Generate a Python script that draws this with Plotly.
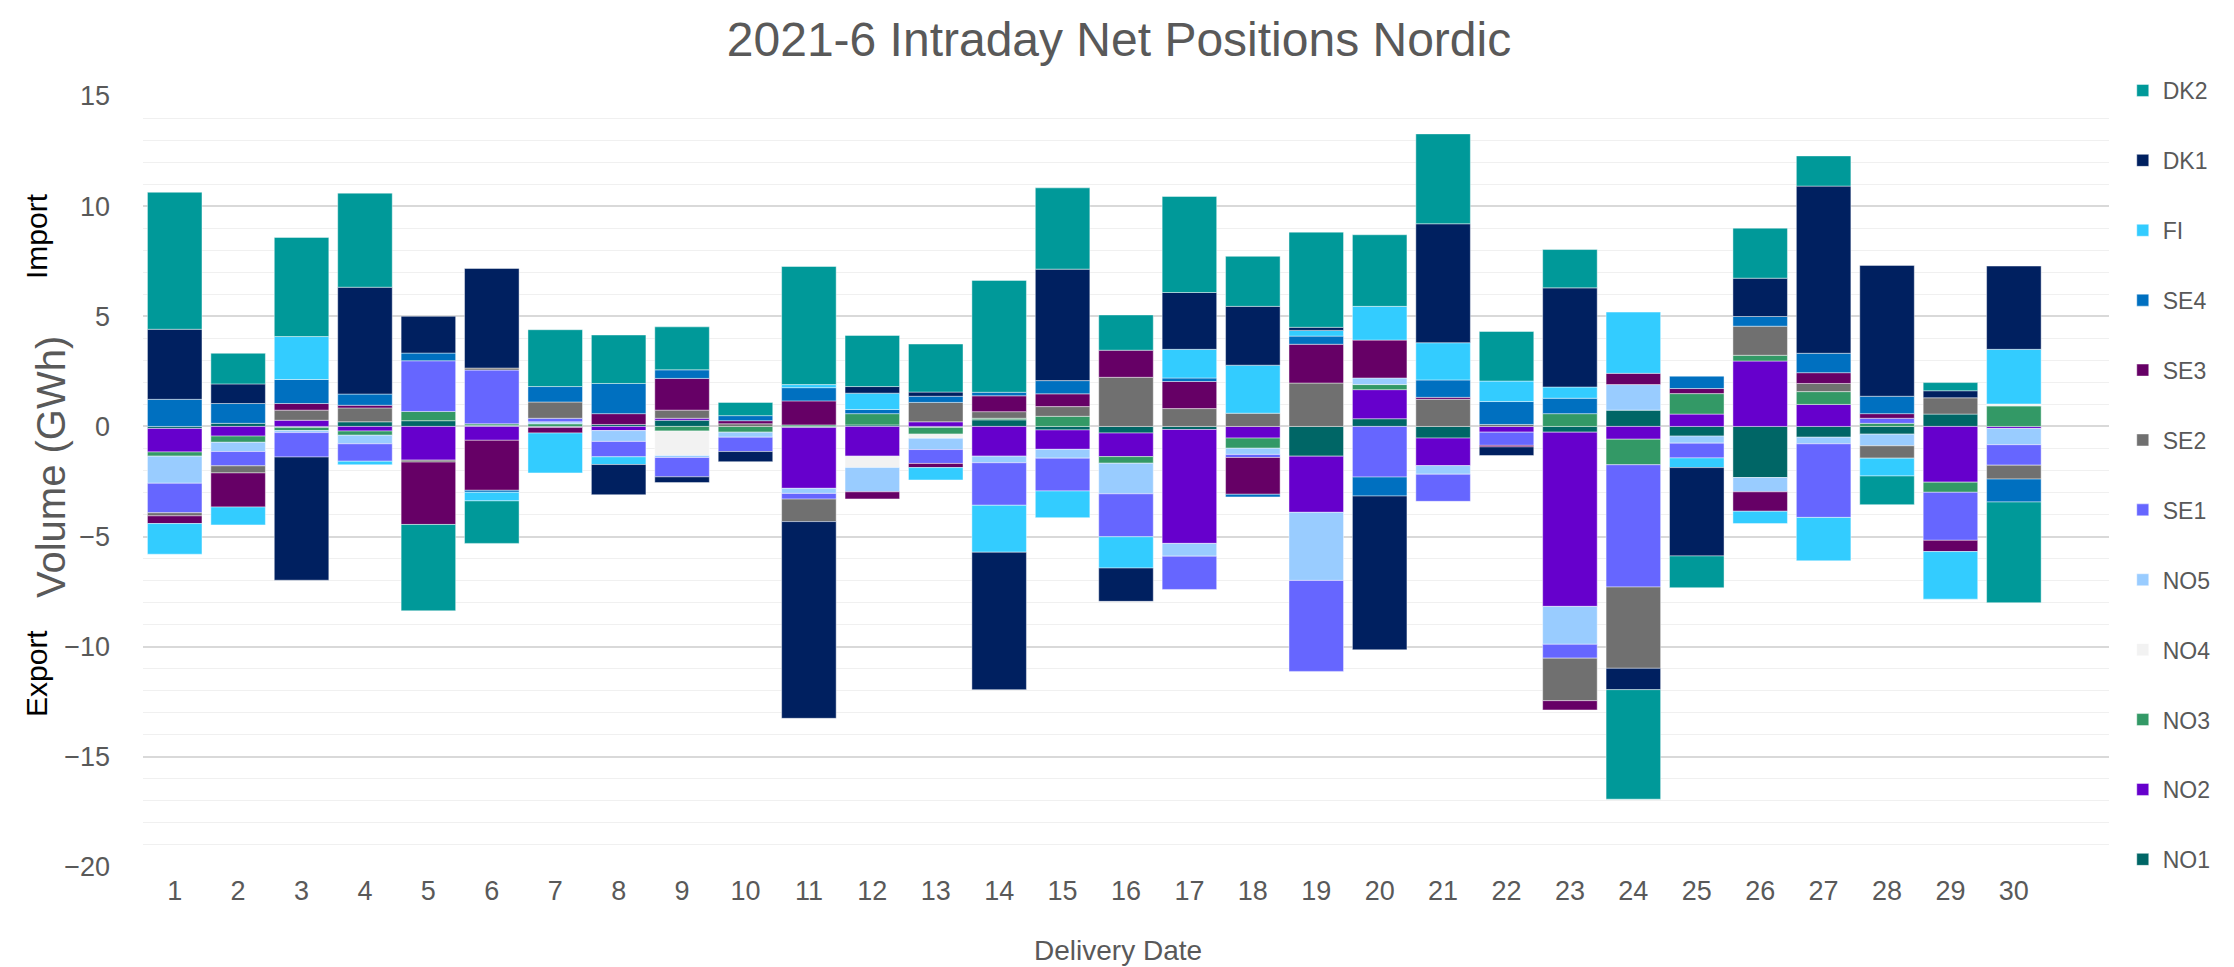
import plotly.graph_objects as go

days = list(range(1, 31))

NO1 = [-0.09, 0.14, -0.05, 0.21, 0.26, 0.05, 0, 0.09, 0.28, 0, -0.05, 0.07, -0.05, 0.30, -0.16,
       -0.30, -0.14, 0, -1.35, 0.35, -0.53, 0, -0.26, 0.74, -0.44, -2.32, -0.49, -0.35, 0.56, 0]
NO2 = [-1.07, -0.44, 0.28, -0.21, -1.53, -0.63, -0.05, -0.19, 0.09, 0, -2.76, -1.35, 0.21, -1.35, -0.88,
       -1.07, -5.17, -0.53, -2.55, 1.32, -1.25, -0.26, -7.91, -0.58, 0.56, 2.97, 1.00, 0, -2.53, -0.09]
NO3 = [-0.19, -0.28, -0.14, -0.19, 0.42, 0.07, 0.12, 0, -0.21, -0.26, 0.07, 0.51, -0.30, 0.07, 0.46,
       -0.30, 0, -0.46, 0, 0.23, 0, 0, 0.58, -1.16, 0.93, 0.26, 0.58, 0.14, -0.46, 0.93]
NO4 = [0, 0, 0, 0, 0, 0, 0, 0, -1.11, 0, 0, -0.51, -0.19, 0, 0,
       0, 0, 0, 0, 0, 0, 0, 0, 0, 0, 0, 0, 0, 0, 0.09]
NO5 = [-1.23, -0.42, -0.09, -0.39, 0, 0, 0.09, -0.49, -0.09, -0.23, -0.23, -1.11, -0.51, -0.30, -0.40,
       -1.39, -0.58, -0.28, -3.09, 0.30, -0.39, 0, -1.72, 1.16, -0.32, -0.65, -0.30, -0.53, 0, -0.74]
SE1 = [-1.34, -0.65, -1.11, -0.79, 2.30, 2.44, 0.16, -0.70, -0.88, -0.65, -0.26, 0, -0.63, -1.93, -1.49,
       -1.95, -1.51, -0.14, -4.13, -2.30, -1.23, -0.60, -0.63, -5.55, -0.67, 0, -3.34, 0.23, -2.18, -0.93]
SE2 = [-0.14, -0.32, 0.46, 0.63, -0.09, 0.09, 0.74, 0, 0.37, 0.12, -1.02, 0, 0.88, 0.30, 0.44,
       2.23, 0.81, 0.60, 1.97, 0, 1.23, 0.09, -1.93, -3.69, 0, 1.32, 0.37, -0.56, 0.74, -0.63]
SE3 = [-0.35, -1.55, 0.30, 0.12, -2.83, -2.27, -0.25, 0.49, 1.44, 0.14, 1.09, -0.32, -0.19, 0.72, 0.58,
       1.23, 1.23, -1.67, 1.76, 1.72, 0.09, -0.07, -0.42, 0.51, 0.23, -0.88, 0.49, 0.21, -0.51, 0]
SE4 = [1.23, 0.90, 1.09, 0.51, 0.35, -0.09, 0.70, 1.37, 0.39, 0.23, 0.60, 0.19, 0.28, 0.16, 0.60,
       0, 0.16, -0.12, 0.37, -0.86, 0.79, 1.04, 0.70, 0, 0.56, 0.44, 0.88, 0.79, 0, -1.04]
FI = [-1.39, -0.81, 1.95, -0.16, 0, -0.39, -1.81, -0.35, 0, 0, 0.14, 0.74, -0.56, -2.13, -1.21,
      -1.42, 1.30, 2.18, 0.26, 1.53, 1.69, 0.93, 0.51, 2.78, -0.44, -0.56, -1.97, -0.81, -2.16, 2.48]
DK1 = [3.18, 0.89, -5.59, 4.85, 1.67, 4.52, 0, -1.37, -0.26, -0.46, -8.93, 0.30, 0.19, -6.24, 5.06,
       -1.51, 2.58, 2.67, 0.14, -6.98, 5.40, -0.39, 4.50, -0.97, -4.01, 1.74, 7.59, 5.94, 0.32, 3.78]
DK2 = [6.22, 1.39, 4.50, 4.27, -3.92, -1.93, 2.58, 2.20, 1.95, 0.60, 5.36, 2.32, 2.18, 5.08, 3.69,
       1.60, 4.36, 2.27, 4.32, 3.25, 4.08, 2.25, 1.74, -4.97, -1.44, 2.27, 1.37, -1.30, 0.37, -4.57]

series = [
    ("NO1", NO1, "#006666"),
    ("NO2", NO2, "#6600CC"),
    ("NO3", NO3, "#339966"),
    ("NO4", NO4, "#F2F2F2"),
    ("NO5", NO5, "#99CCFF"),
    ("SE1", SE1, "#6666FF"),
    ("SE2", SE2, "#707070"),
    ("SE3", SE3, "#660066"),
    ("SE4", SE4, "#0070C0"),
    ("FI", FI, "#33CCFF"),
    ("DK1", DK1, "#002060"),
    ("DK2", DK2, "#009999"),
]

FONT = "Liberation Sans, Arial, sans-serif"
GREY = "#595959"

fig = go.Figure()
n = len(series)
for i, (name, vals, color) in enumerate(series):
    fig.add_trace(go.Bar(
        x=days,
        y=[v if v != 0 else None for v in vals],
        name=name,
        legendgroup=name,
        legendrank=1000 + (n - i),
        marker=dict(color=color, line=dict(color="rgba(255,255,255,0.55)", width=0.8)),
    ))

fig.update_layout(
    width=2234, height=967,
    barmode="relative",
    bargap=0.14,
    plot_bgcolor="white", paper_bgcolor="white",
    margin=dict(l=135, r=133, t=88, b=108),
    font=dict(family=FONT, color=GREY),
    title=dict(text="2021-6 Intraday Net Positions Nordic", x=(1111 - 135) / 1966, xref="paper",
               y=1 - 31 / 967, yanchor="middle", xanchor="center",
               font=dict(size=48, color=GREY, family=FONT)),
    legend=dict(traceorder="grouped", tracegroupgap=37,
                x=1.007, xanchor="left", y=1.035, yanchor="top", maxheight=967,
                font=dict(size=23, color=GREY, family=FONT), itemclick=False),
    showlegend=True,
)

fig.update_xaxes(
    range=[0.5, 31.5], tickmode="array", tickvals=days, ticktext=[str(d) for d in days],
    showgrid=False, zeroline=False, showline=False, ticks="",
    tickfont=dict(size=27, color=GREY, family=FONT), ticklabelstandoff=5,
)
fig.update_yaxes(
    range=[-20, 15], tickmode="array", tickvals=[-20, -15, -10, -5, 0, 5, 10, 15],
    showgrid=True, gridcolor="#D9D9D9", gridwidth=1.5,
    zeroline=True, zerolinecolor="#D9D9D9", zerolinewidth=1.5,
    minor=dict(dtick=1, showgrid=True, gridcolor="#F0F0F0", gridwidth=1, tick0=0),
    showline=False, ticks="",
    tickfont=dict(size=27, color=GREY, family=FONT), ticklabelstandoff=32,
)

fig.add_annotation(text="Volume (GWh)", xref="paper", yref="paper", x=(43 - 135) / 1966, y=(859 - 459) / 771,
                   textangle=-90, showarrow=False, xanchor="center", yanchor="middle",
                   font=dict(size=40, color=GREY, family=FONT))
fig.add_annotation(text="Import", xref="paper", yref="paper", x=(28 - 135) / 1966, y=(859 - 228) / 771,
                   textangle=-90, showarrow=False, xanchor="center", yanchor="middle",
                   font=dict(size=30, color="black", family=FONT))
fig.add_annotation(text="Export", xref="paper", yref="paper", x=(28 - 135) / 1966, y=(859 - 666) / 771,
                   textangle=-90, showarrow=False, xanchor="center", yanchor="middle",
                   font=dict(size=30, color="black", family=FONT))
fig.add_annotation(text="Delivery Date", xref="paper", yref="paper", x=(1110 - 135) / 1966, y=(859 - 942) / 771,
                   showarrow=False, xanchor="center", yanchor="middle",
                   font=dict(size=28, color=GREY, family=FONT))

fig.write_html("out.html")
